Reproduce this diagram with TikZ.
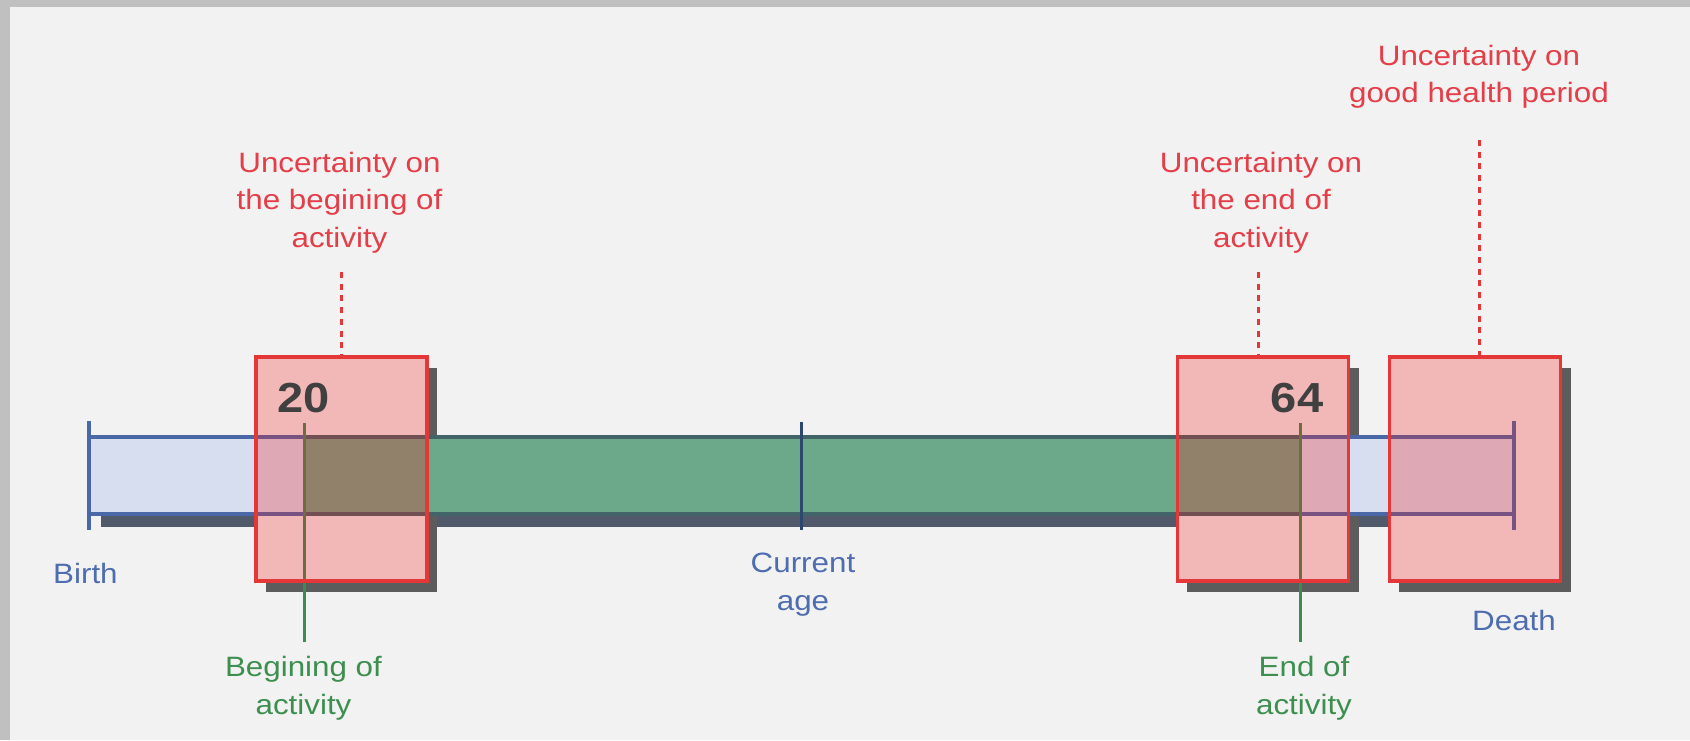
\documentclass[tikz,border=0pt]{standalone}
\usepackage{fontspec}
\setmainfont[FakeStretch=1.12]{Liberation Sans}
\usetikzlibrary{calc}
\definecolor{bgc}{RGB}{242,242,242}
\definecolor{framec}{RGB}{192,192,192}
\definecolor{redt}{RGB}{228,62,72}
\definecolor{redb}{RGB}{228,55,55}
\definecolor{redf}{RGB}{245,25,25}
\definecolor{bluet}{RGB}{78,108,176}
\definecolor{blueb}{RGB}{74,104,168}
\definecolor{lblue}{RGB}{215,222,240}
\definecolor{greenf}{RGB}{108,168,138}
\definecolor{greenb}{RGB}{66,100,104}
\definecolor{greenl}{RGB}{60,140,80}
\definecolor{greent}{RGB}{61,143,80}
\definecolor{shadowc}{RGB}{92,92,92}
\definecolor{barshadow}{RGB}{80,90,106}
\definecolor{digit}{RGB}{64,64,64}
\definecolor{tickc}{RGB}{45,72,110}
\begin{document}
\begin{tikzpicture}[x=1pt,y=-1pt,
  lbl/.style={font=\fontsize{28}{37.5}\selectfont, inner sep=0pt, align=center},
  redlbl/.style={lbl, text=redt},
  bluelbl/.style={lbl, text=bluet},
  greenlbl/.style={lbl, text=greent},
  digits/.style={font=\fontsize{42}{42}\selectfont\bfseries, text=digit, inner sep=0pt, anchor=base},
  ubox/.style={rectangle, minimum width=171pt, minimum height=224pt, inner sep=0pt},
  barshape/.style={rectangle, minimum width=1425pt, minimum height=77pt, inner sep=0pt},
  udash/.style={draw=redb, line width=3pt, dash pattern=on 6pt off 5.7pt},
  gline/.style={draw=greenl, line width=3pt},
  bline/.style={line width=3.5pt},
]
\useasboundingbox (0,0) rectangle (1690,740);
\fill[framec] (0,0) rectangle (1690,740);
\fill[bgc] (10,7) rectangle (1690,740);

% invisible shapes
\node[ubox] (b1) at (341.5,469) {};
\node[ubox] (b2) at (1263,469) {};
\node[ubox] (b3) at (1475,469) {};
\node[barshape] (bar) at (801.5,475.5) {};
\coordinate (gs) at (304,423);
\coordinate (ge) at (1300.5,423);
\coordinate (gsb) at (304,642);
\coordinate (geb) at (1300.5,642);

% shadows
\fill[barshadow] ([shift={(12,13)}]bar.north west) rectangle ([shift={(12,13)}]bar.south east);
\foreach \b in {b1,b2,b3}
  \fill[shadowc] ([shift={(10,11)}]\b.north west) rectangle ([shift={(10,11)}]\b.south east);
\foreach \b in {b1,b2,b3}
  \fill[bgc] (\b.north west) rectangle (\b.south east);

% bar
\fill[lblue] (bar.north west) rectangle (bar.south east);
\fill[greenf] (bar.north west -| gs) rectangle (bar.south east -| ge);
\draw[bline, blueb] (bar.north west) -- (bar.north east);
\draw[bline, blueb] (bar.south west) -- (bar.south east);
\draw[bline, greenb] (bar.north west -| gs) -- (bar.north west -| ge);
\draw[bline, greenb] (bar.south west -| gs) -- (bar.south west -| ge);
\draw[bline, blueb] ([yshift=16pt]bar.north west) -- ([yshift=-16pt]bar.south west);
\draw[bline, blueb] ([yshift=16pt]bar.north east) -- ([yshift=-16pt]bar.south east);
\draw[line width=3pt, tickc] ([yshift=15pt]bar.north) -- ([yshift=-16pt]bar.south);

% activity lines
\draw[gline] (gs) -- (gsb);
\draw[gline] (ge) -- (geb);

% uncertainty boxes
\foreach \b in {b1,b2,b3}
  \fill[redf, fill opacity=0.27] (\b.north west) rectangle (\b.south east);
\foreach \b in {b1,b2,b3}
  \draw[bline, redb] (\b.north west) rectangle (\b.south east);

\node[digits] (n20) at (303.5,412) {20};
\node[digits] (n64) at (1297,412) {64};

% labels
\node[redlbl, anchor=north] (l1) at (339.5,152) {Uncertainty on\\the begining of\\activity};
\node[redlbl, anchor=north] (l2) at (1261,152) {Uncertainty on\\the end of\\activity};
\node[redlbl, anchor=north] (l3) at (1479,45) {Uncertainty on\\good health period};
\node[bluelbl, anchor=north] (cur) at (803,553) {Current\\age};
\node[bluelbl, anchor=base west] (birth) at (53,583) {Birth};
\node[bluelbl, anchor=base west] (death) at (1472,630) {Death};
\node[greenlbl, anchor=north] (beg) at (303.5,656) {Begining of\\activity};
\node[greenlbl, anchor=north] (endact) at (1304,656) {End of\\activity};

% dashed connectors
\coordinate (t1) at (341.5,272);
\coordinate (t2) at (1258,272);
\coordinate (t3) at (1479,140);
\draw[udash] (t1) -- (t1 |- b1.north);
\draw[udash] (t2) -- (t2 |- b2.north);
\draw[udash] (t3) -- (t3 |- b3.north);
\end{tikzpicture}
\end{document}
